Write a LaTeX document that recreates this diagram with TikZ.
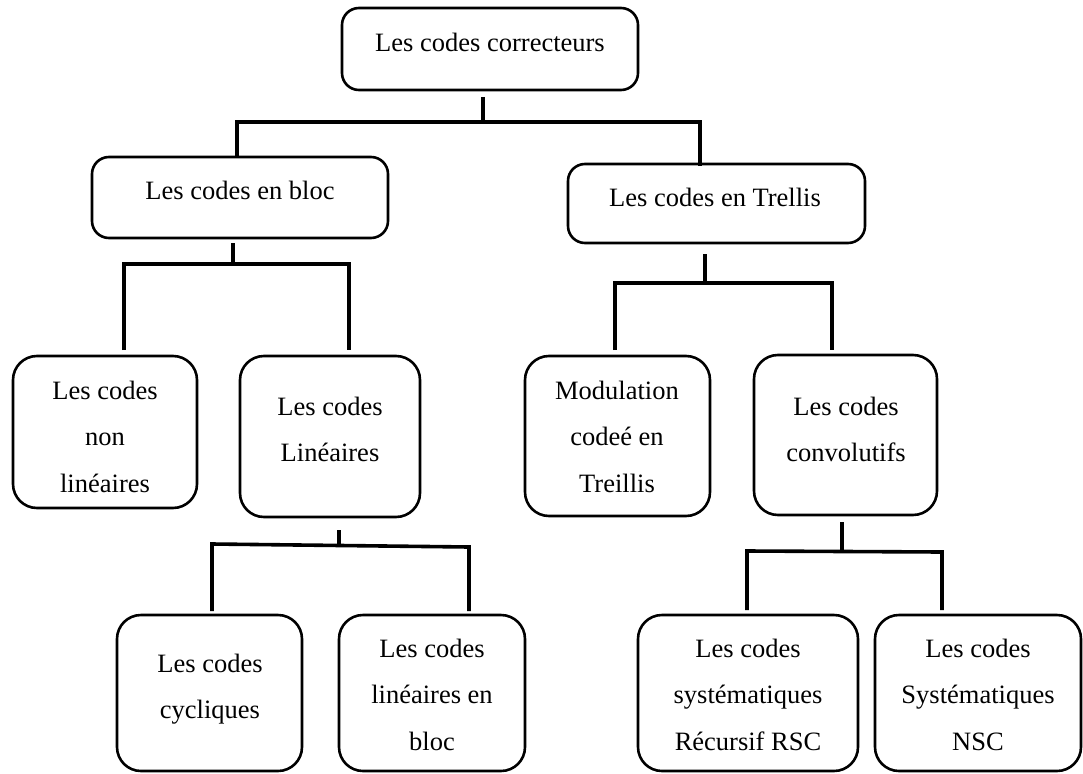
\documentclass[tikz,border=0pt]{standalone}
\usepackage{fontspec}
\setmainfont{Liberation Serif}
\usetikzlibrary{calc}
\tikzset{
  box/.style={draw, line width=2.6pt, rounded corners=17pt, inner sep=0pt},
  tallbox/.style={box, rounded corners=24pt},
  lbl/.style={anchor=base, inner sep=0pt, font=\fontsize{26.5}{46.5}\selectfont},
  conn/.style={line width=3.6pt, line join=miter},
}
\newcommand\stack[1]{\begin{tabular}[t]{@{}c@{}}#1\end{tabular}}
\begin{document}
\begin{tikzpicture}[x=1pt,y=-1pt]
\useasboundingbox (0,0) rectangle (1083,773);

% boxes
\node[box, minimum width=296, minimum height=82] (root) at (490,49) {};
\node[box, minimum width=296, minimum height=81] (bloc) at (240,197.5) {};
\node[box, minimum width=297, minimum height=79] (trel) at (716.5,203.5) {};
\node[tallbox, minimum width=184, minimum height=152] (nonlin) at (105,432) {};
\node[tallbox, minimum width=180, minimum height=161] (lin) at (330,436.5) {};
\node[tallbox, minimum width=185, minimum height=160] (tcm) at (617.5,436) {};
\node[tallbox, minimum width=183, minimum height=160] (conv) at (845.5,435) {};
\node[tallbox, minimum width=185, minimum height=156] (cyc) at (209.5,693) {};
\node[tallbox, minimum width=186, minimum height=156] (linbloc) at (432,693) {};
\node[tallbox, minimum width=220, minimum height=156] (rsc) at (748,693) {};
\node[tallbox, minimum width=206, minimum height=156] (nsc) at (978,693) {};

% labels
\node[lbl] (root-t) at (490,52) {Les codes correcteurs};
\node[lbl] (bloc-t) at (240,199) {Les codes en bloc};
\node[lbl] (trel-t) at (715,206) {Les codes en Trellis};
\node[lbl] (nonlin-t) at (105,399) {\stack{Les codes\\non\\linéaires}};
\node[lbl] (lin-t) at (330,415) {\stack{Les codes\\Linéaires}};
\node[lbl] (tcm-t) at (617,399) {\stack{Modulation\\codeé en\\Treillis}};
\node[lbl] (conv-t) at (846,415) {\stack{Les codes\\convolutifs}};
\node[lbl] (cyc-t) at (210,672) {\stack{Les codes\\cycliques}};
\node[lbl] (linbloc-t) at (432,657) {\stack{Les codes\\linéaires en\\bloc}};
\node[lbl] (rsc-t) at (748,657) {\stack{Les codes\\systématiques\\Récursif RSC}};
\node[lbl] (nsc-t) at (978,657) {\stack{Les codes\\Systématiques\\NSC}};

% connector end points
\coordinate (r1) at (483,97);   \coordinate (r2) at (483,122);
\coordinate (r3) at (237,122);  \coordinate (r4) at (237,157);
\coordinate (r5) at (700,122);  \coordinate (r6) at (700,166);

\coordinate (b1) at (233,243);  \coordinate (b2) at (233,264);
\coordinate (b3) at (124,264);  \coordinate (b4) at (124,350);
\coordinate (b5) at (349,264);  \coordinate (b6) at (349,350);

\coordinate (t1) at (705,254);  \coordinate (t2) at (705,283);
\coordinate (t3) at (615,283);  \coordinate (t4) at (615,350);
\coordinate (t5) at (832,283);  \coordinate (t6) at (832,350);

\coordinate (l1) at (339,530);  \coordinate (l2) at (339,545);
\coordinate (l3) at (212,544);  \coordinate (l4) at (212,611);
\coordinate (l5) at (469,547);  \coordinate (l6) at (469,611);

\coordinate (c1) at (842,522);  \coordinate (c2) at (842,551);
\coordinate (c3) at (747,551);  \coordinate (c4) at (747,610);
\coordinate (c5) at (942,552);  \coordinate (c6) at (942,610);

% connectors
\draw[conn] (r1) -- (r2);
\draw[conn] (r4) -- (r3) -- (r5) -- (r6);
\draw[conn] (b1) -- (b2);
\draw[conn] (b4) -- (b3) -- (b5) -- (b6);
\draw[conn] (t1) -- (t2);
\draw[conn] (t4) -- (t3) -- (t5) -- (t6);
\draw[conn] (l1) -- (l2);
\draw[conn] (l4) -- (l3) -- (l5) -- (l6);
\draw[conn] (c1) -- (c2);
\draw[conn] (c4) -- (c3) -- (c5) -- (c6);
\end{tikzpicture}
\end{document}
